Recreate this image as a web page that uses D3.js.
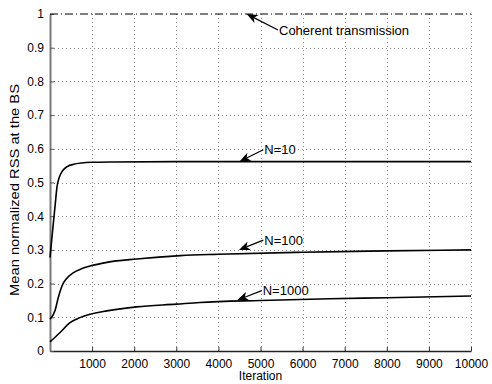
<!DOCTYPE html>
<html>
<head>
<meta charset="utf-8">
<script src="https://cdn.jsdelivr.net/npm/d3@7"></script>
<style>
  html, body { margin: 0; padding: 0; background: #fff; }
  svg { display: block; font-family: "Liberation Sans", Arial, sans-serif; }
  .grid line { stroke: #8a8a8a; stroke-width: 1; stroke-dasharray: 1,3; shape-rendering: crispEdges; }
  .curve { fill: none; stroke: #000; stroke-width: 1.6; }
</style>
</head>
<body>
<div id="chart"></div>
<script>
var width = 492
var height = 384
var margin = { top: 14, right: 21, bottom: 33, left: 50 };

// values
var iterN10 = [0, 60, 120, 170, 220, 300, 420, 560, 750, 1000, 1500, 3000, 10000];
var rssN10 = [0.277, 0.355, 0.43, 0.49, 0.515, 0.535, 0.548, 0.554, 0.558, 0.560, 0.561, 0.562, 0.562];

var iterN100 = [0, 120, 200, 260, 320, 400, 550, 750, 950, 1350, 2060, 3100, 4000, 6000, 6900, 8000, 10000];
var rssN100 = [0.094, 0.12, 0.16, 0.185, 0.202, 0.216, 0.232, 0.244, 0.252, 0.263, 0.273, 0.283, 0.287, 0.293, 0.295, 0.297, 0.30];

var iterN1000 = [0, 240, 475, 710, 950, 1350, 2060, 3000, 3560, 5000, 6650, 8000, 10000];
var rssN1000 = [0.027, 0.055, 0.084, 0.099, 0.109, 0.119, 0.131, 0.139, 0.144, 0.150, 0.155, 0.158, 0.163];

var coherentLevel = 1;

var xTicks = [1000, 2000, 3000, 4000, 5000, 6000, 7000, 8000, 9000, 10000];
var yTicks = [0, 0.1, 0.2, 0.3, 0.4, 0.5, 0.6, 0.7, 0.8, 0.9, 1];

// arrow annotations: tip and text anchor in data units
var notes = [
    { label: "Coherent transmission", tip: [4672, 1.0], tail: [5416, 0.9525] },
    { label: "N=10", tip: [4501, 0.562], tail: [5067, 0.597] },
    { label: "N=100", tip: [4489, 0.300], tail: [5067, 0.329] },
    { label: "N=1000", tip: [4449, 0.151], tail: [5029, 0.179] }
];

var svg = d3.select("#chart").append("svg")
    .attr("width", width)
    .attr("height", height);

var x = d3.scaleLinear()
    .domain([0, 10000])
    .range([margin.left, width - margin.right]);

var y = d3.scaleLinear()
    .domain([0, 1])
    .range([height - margin.bottom, margin.top]);

// grid
var grid = svg.append("g").attr("class", "grid");
grid.selectAll(".gx")
    .data(xTicks)
    .enter().append("line")
    .attr("x1", function(d) { return Math.round(x(d)) + 0.5; })
    .attr("x2", function(d) { return Math.round(x(d)) + 0.5; })
    .attr("y1", y(1))
    .attr("y2", y(0));
grid.selectAll(".gy")
    .data(yTicks.filter(function(d) { return d > 0 && d < 1; }))
    .enter().append("line")
    .attr("x1", x(0))
    .attr("x2", x(10000))
    .attr("y1", function(d) { return Math.round(y(d)) + 0.5; })
    .attr("y2", function(d) { return Math.round(y(d)) + 0.5; });

// axes
var xAxis = svg.append("g")
    .attr("transform", "translate(0," + y(0) + ")")
    .call(d3.axisBottom(x)
        .tickValues(xTicks)
        .tickSizeInner(-4)
        .tickSizeOuter(0)
        .tickPadding(8)
        .tickFormat(d3.format("d")));
xAxis.select(".domain").attr("stroke", "#222").attr("stroke-width", 1.5);
xAxis.selectAll(".tick line").attr("stroke", "#333");
xAxis.selectAll("text").attr("font-size", 12).attr("fill", "#000")
    .attr("font-family", "Liberation Sans, Arial, sans-serif");

var yAxis = svg.append("g")
    .attr("transform", "translate(" + x(0) + ",0)")
    .call(d3.axisLeft(y)
        .tickValues(yTicks)
        .tickSizeInner(-4)
        .tickSizeOuter(0)
        .tickPadding(6)
        .tickFormat(function(d) { return d3.format("~g")(d); }));
yAxis.select(".domain").attr("stroke", "#7a7a7a").attr("stroke-width", 2);
yAxis.selectAll(".tick line").attr("stroke", "#555");
yAxis.selectAll("text").attr("font-size", 12).attr("fill", "#000")
    .attr("font-family", "Liberation Sans, Arial, sans-serif");

// coherent transmission level
svg.append("line")
    .attr("x1", x(0))
    .attr("x2", x(10000))
    .attr("y1", y(coherentLevel))
    .attr("y2", y(coherentLevel))
    .attr("stroke", "#000")
    .attr("stroke-width", 1)
    .attr("stroke-dasharray", "8,3,1,3");

// curves
var line = d3.line()
    .x(function(d) { return x(d[0]); })
    .y(function(d) { return y(d[1]); })
    .curve(d3.curveMonotoneX);

[[iterN10, rssN10], [iterN100, rssN100], [iterN1000, rssN1000]].forEach(function(s) {
    svg.append("path")
        .datum(d3.zip(s[0], s[1]))
        .attr("class", "curve")
        .attr("d", line);
});

// annotations
notes.forEach(function(n) {
    var tx = x(n.tip[0]), ty = y(n.tip[1]);
    var sx = x(n.tail[0]), sy = y(n.tail[1]);
    var ang = Math.atan2(ty - sy, tx - sx);
    var len = 11, hw = 4.5, notch = 8;
    var ca = Math.cos(ang), sa = Math.sin(ang);
    function pt(a, b) { return [tx - a * ca - b * sa, ty - a * sa + b * ca]; }
    svg.append("line")
        .attr("x1", sx).attr("y1", sy)
        .attr("x2", pt(notch, 0)[0]).attr("y2", pt(notch, 0)[1])
        .attr("stroke", "#000").attr("stroke-width", 1.2);
    svg.append("path")
        .attr("d", "M" + [tx, ty] + "L" + pt(len, hw) + "L" + pt(notch, 0) + "L" + pt(len, -hw) + "Z")
        .attr("fill", "#000");
    svg.append("text")
        .attr("x", sx + 1)
        .attr("y", sy)
        .attr("dy", "0.35em")
        .attr("font-size", 13)
        .text(n.label);
});

// axis labels
svg.append("text")
    .attr("x", (x(0) + x(10000)) / 2)
    .attr("y", 380)
    .attr("text-anchor", "middle")
    .attr("font-size", 12)
    .text("Iteration");

svg.append("text")
    .attr("transform", "translate(18.5,190) rotate(-90)")
    .attr("text-anchor", "middle")
    .attr("font-size", 12.5)
    .attr("textLength", 212)
    .attr("lengthAdjust", "spacingAndGlyphs")
    .text("Mean normalized RSS at the BS");
</script>
</body>
</html>
